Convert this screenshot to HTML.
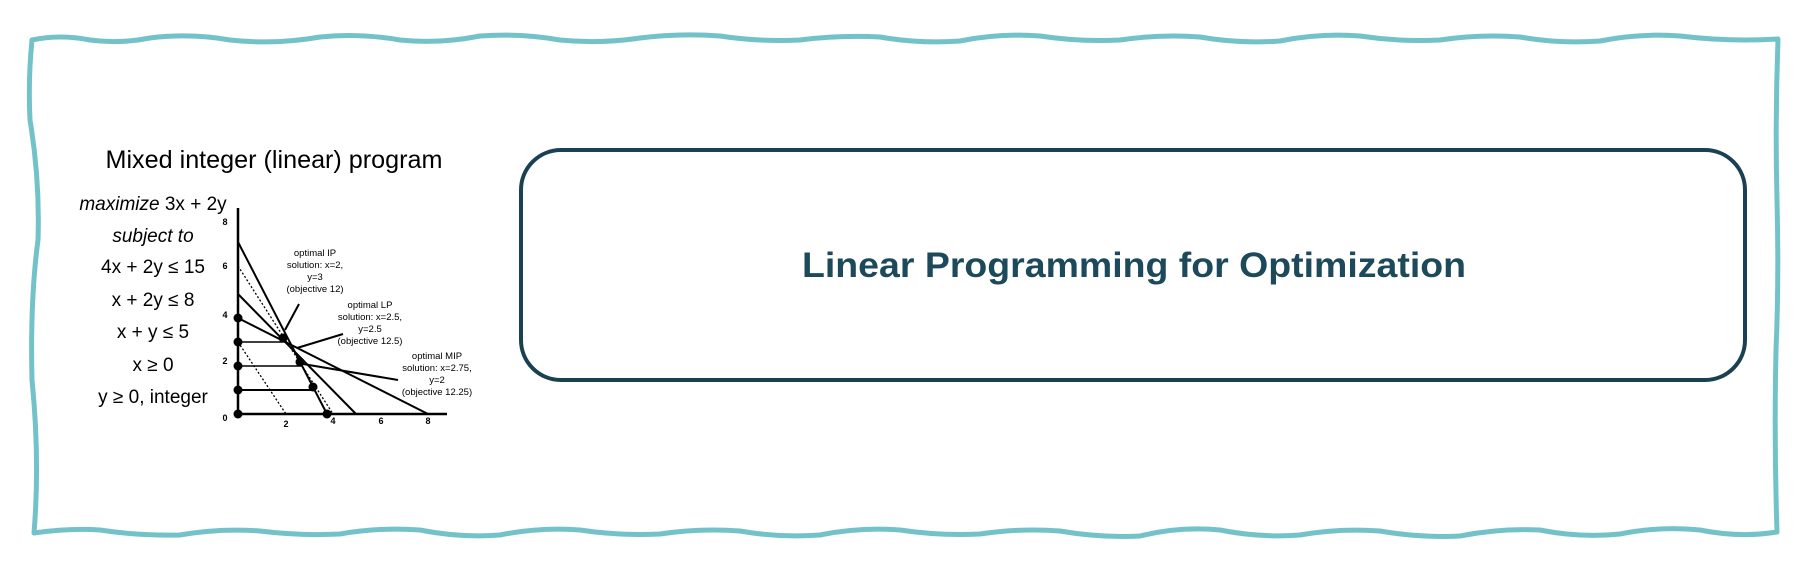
<!DOCTYPE html>
<html><head><meta charset="utf-8"><style>
html,body{margin:0;padding:0;background:#fff;width:1816px;height:568px;overflow:hidden}
</style></head><body>
<svg width="1816" height="568" viewBox="0 0 1816 568" xmlns="http://www.w3.org/2000/svg" font-family="Liberation Sans, sans-serif">
<path d="M32 40 Q60 34 90 40 Q120 44 150 38 Q190 33 230 40 Q275 45 320 37 Q360 33 400 40 Q440 44 480 36 Q520 33 560 40 Q600 44 640 38 Q680 33 720 36 Q760 42 800 40 Q840 35 880 37 Q920 44 960 41 Q1000 33 1040 36 Q1080 42 1120 40 Q1160 34 1200 37 Q1240 44 1280 41 Q1320 33 1360 36 Q1400 42 1440 40 Q1480 34 1520 37 Q1560 44 1600 41 Q1640 33 1680 36 Q1730 42 1778 39
 Q1775 120 1777 200 Q1779 280 1776 350 Q1774 440 1777 532
 Q1740 538 1700 530 Q1660 526 1620 534 Q1580 538 1540 530 Q1500 528 1460 536 Q1420 538 1380 531 Q1340 528 1300 535 Q1260 538 1220 530 Q1180 526 1140 536 Q1100 538 1060 531 Q1020 528 980 534 Q940 536 900 530 Q860 527 820 535 Q780 538 740 531 Q700 528 660 534 Q620 536 580 530 Q540 527 500 535 Q460 538 420 530 Q380 527 340 534 Q300 536 260 531 Q220 528 180 535 Q140 536 100 530 Q70 528 34 533
 Q40 460 32 380 Q30 300 38 240 Q40 180 30 120 Q28 80 32 40 Z" fill="none" stroke="#74c2c9" stroke-width="5" stroke-linejoin="round"/>
<rect x="521" y="150" width="1224" height="230" rx="40" fill="#fff" stroke="#1a4152" stroke-width="4"/>
<text x="1134" y="277" text-anchor="middle" font-size="35" font-weight="bold" fill="#1d4a5a" textLength="664" lengthAdjust="spacingAndGlyphs">Linear Programming for Optimization</text>
<text x="274" y="168" text-anchor="middle" font-size="25" fill="#000" textLength="337" lengthAdjust="spacingAndGlyphs">Mixed integer (linear) program</text>
<g font-size="19" fill="#000" text-anchor="middle">
<text x="153" y="210"><tspan font-style="italic">maximize</tspan> 3x + 2y</text>
<text x="153" y="242" font-style="italic">subject to</text>
<text x="153" y="273">4x + 2y ≤ 15</text>
<text x="153" y="306">x + 2y ≤ 8</text>
<text x="153" y="338">x + y ≤ 5</text>
<text x="153" y="371">x ≥ 0</text>
<text x="153" y="403">y ≥ 0, integer</text>
</g>
<g stroke="#000" fill="none">
<line x1="238" y1="208" x2="238" y2="414" stroke-width="2.5"/>
<line x1="238" y1="414" x2="447" y2="414" stroke-width="2.5"/>
<line x1="238" y1="242" x2="327" y2="414" stroke-width="2"/>
<line x1="238" y1="318" x2="428" y2="414" stroke-width="2"/>
<line x1="238" y1="294" x2="356" y2="414" stroke-width="2"/>
<line x1="238" y1="266" x2="333" y2="414" stroke-width="1.3" stroke-dasharray="2,2"/>
<line x1="238" y1="342" x2="286" y2="414" stroke-width="1.3" stroke-dasharray="2,2"/>
<line x1="238" y1="342" x2="285" y2="342" stroke-width="1.5"/>
<line x1="238" y1="366" x2="303" y2="366" stroke-width="1.5"/>
<line x1="238" y1="390" x2="315" y2="390" stroke-width="2"/>
<line x1="299" y1="304" x2="285" y2="330" stroke-width="2"/>
<line x1="343" y1="334" x2="297" y2="348" stroke-width="2"/>
<line x1="398" y1="380" x2="303" y2="364" stroke-width="2"/>
</g>
<g fill="#000">
<circle cx="238" cy="318" r="4.5"/><circle cx="238" cy="342" r="4.5"/><circle cx="238" cy="366" r="4.5"/><circle cx="238" cy="390" r="4.5"/><circle cx="238" cy="414" r="4.5"/>
<circle cx="283" cy="338" r="4.5"/><circle cx="300" cy="362" r="4.5"/><circle cx="313" cy="387" r="4.5"/><circle cx="327" cy="414" r="4.5"/>
</g>
<g font-size="9" font-weight="bold" fill="#000" text-anchor="middle">
<text x="225" y="225">8</text><text x="225" y="269">6</text><text x="225" y="318">4</text><text x="225" y="364">2</text><text x="225" y="421">0</text>
<text x="286" y="427">2</text><text x="333" y="424">4</text><text x="381" y="424">6</text><text x="428" y="424">8</text>
</g>
<g font-size="9.5" fill="#000" text-anchor="middle">
<text x="315" y="256">optimal IP</text><text x="315" y="268">solution: x=2,</text><text x="315" y="280">y=3</text><text x="315" y="292">(objective 12)</text>
<text x="370" y="308">optimal LP</text><text x="370" y="320">solution: x=2.5,</text><text x="370" y="332">y=2.5</text><text x="370" y="344">(objective 12.5)</text>
<text x="437" y="359">optimal MIP</text><text x="437" y="371">solution: x=2.75,</text><text x="437" y="383">y=2</text><text x="437" y="395">(objective 12.25)</text>
</g>
</svg>
</body></html>
